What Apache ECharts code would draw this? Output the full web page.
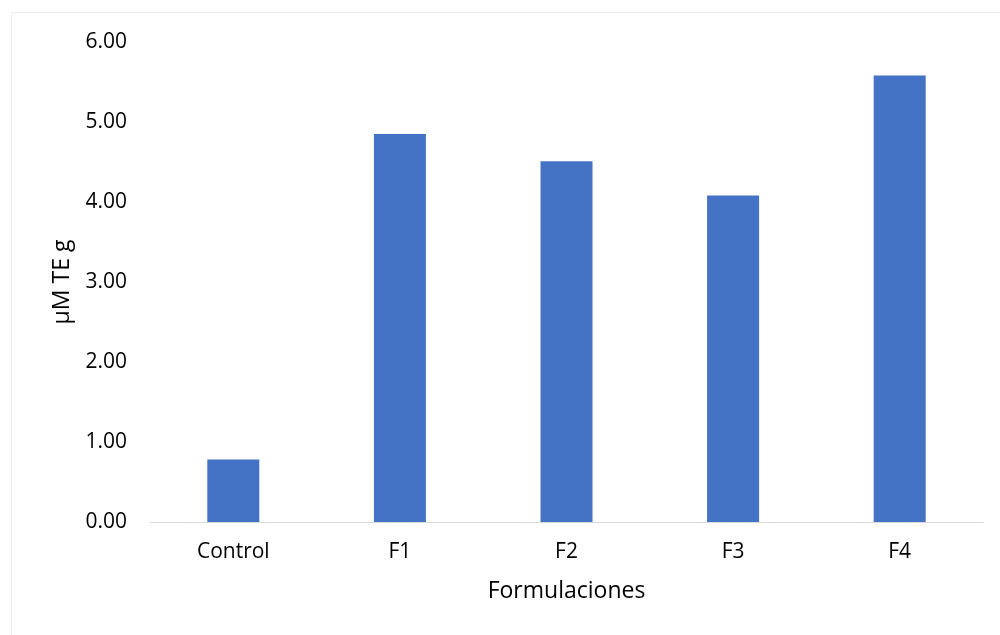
<!DOCTYPE html>
<html>
<head>
<meta charset="utf-8">
<script src="https://cdn.jsdelivr.net/npm/echarts@6/dist/echarts.min.js"></script>
<style>
  html, body { margin: 0; padding: 0; background: #fff; }
  #chart { width: 1000px; height: 635px; }
</style>
</head>
<body>
<div id="chart"></div>
<script>
// Antioxidant capacity per formulation
const categories = ['Control', 'F1', 'F2', 'F3', 'F4'];
const values = [0.78, 4.85, 4.51, 4.08, 5.58];
const yTicks = { min: 0, max: 6, interval: 1 };

const FONT = '"Open Sans", "Liberation Sans", sans-serif';
const chart = echarts.init(document.getElementById('chart'), null, { renderer: 'canvas' });

chart.setOption({
  backgroundColor: '#ffffff',
  animation: false,
  graphic: [{
    type: 'rect',
    shape: { x: 11.5, y: 12.5, width: 1000, height: 700 },
    style: { fill: 'none', stroke: '#ececec', lineWidth: 1 },
    silent: true
  }],
  grid: { left: 150, right: 17, top: 42, bottom: 113, containLabel: false },
  xAxis: {
    type: 'category',
    data: categories,
    axisLine: { show: true, lineStyle: { color: '#d9d9d9', width: 1 } },
    axisTick: { show: false },
    axisLabel: { color: '#000', fontFamily: FONT, fontSize: 21, margin: 20 },
    name: 'Formulaciones',
    nameLocation: 'middle',
    nameGap: 58,
    nameTextStyle: { color: '#000', fontFamily: FONT, fontSize: 23 }
  },
  yAxis: {
    type: 'value',
    min: yTicks.min,
    max: yTicks.max,
    interval: yTicks.interval,
    splitLine: { show: false },
    axisLine: { show: false },
    axisTick: { show: false },
    axisLabel: {
      color: '#000', fontFamily: FONT, fontSize: 21, margin: 23,
      formatter: v => v.toFixed(2)
    },
    name: 'µM TE g',
    nameLocation: 'middle',
    nameGap: 76,
    nameRotate: 90,
    nameTextStyle: { color: '#000', fontFamily: FONT, fontSize: 23 }
  },
  series: [{
    type: 'bar',
    data: values,
    barWidth: 52,
    itemStyle: { color: '#4472c4' }
  }]
});
</script>
</body>
</html>
